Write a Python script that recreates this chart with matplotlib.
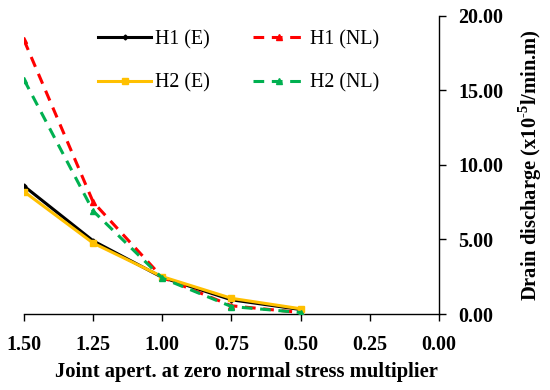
import matplotlib
matplotlib.use("Agg")
import matplotlib.pyplot as plt

plt.rcParams['font.family'] = ['Liberation Serif', 'DejaVu Serif']
plt.rcParams['mathtext.fontset'] = 'custom'
plt.rcParams['mathtext.bf'] = 'Liberation Serif:bold'
plt.rcParams['mathtext.rm'] = 'Liberation Serif:bold'

x = [1.50, 1.25, 1.00, 0.75, 0.50]
h1_e = [8.57, 4.9, 2.45, 0.95, 0.3]
h2_e = [8.2, 4.75, 2.5, 1.05, 0.35]
h1_nl = [18.35, 7.5, 2.45, 0.55, 0.1]
h2_nl = [15.7, 6.9, 2.4, 0.5, 0.1]

xticks = [1.50, 1.25, 1.00, 0.75, 0.50, 0.25, 0.00]
yticks = [0, 5, 10, 15, 20]

W, H = 550, 390
fig = plt.figure(figsize=(5.5, 3.9), dpi=100)
ax = fig.add_axes([24/W, 1-314/H, (439-24)/W, (314-15.5)/H])

ax.plot(x, h1_e, color='black', lw=2.2, marker='D', ms=2.5, label='H1 (E)', zorder=3)
ax.plot(x, h1_nl, color='#FF0000', lw=2.2, ls=(0, (3.5, 2.5)), marker='^', ms=4.5, label='H1 (NL)', zorder=3)
ax.plot(x, h2_e, color='#FFC000', lw=2.2, marker='s', ms=4.5, label='H2 (E)', zorder=4)
ax.plot(x, h2_nl, color='#00B050', lw=2.2, ls=(0, (3.5, 2.5)), marker='^', ms=4.5, label='H2 (NL)', zorder=5)

ax.set_xlim(1.5, 0.0)
ax.set_ylim(0, 20)
ax.set_xticks(xticks)
ax.set_xticklabels([f"{v:.2f}" for v in xticks], fontweight='bold', fontsize=14.4)
ax.set_yticks(yticks)
ax.set_yticklabels([f"{v:.2f}" for v in yticks], fontweight='bold', fontsize=14.4)

ax.spines['top'].set_visible(False)
ax.spines['left'].set_visible(False)
ax.spines['right'].set_visible(True)
ax.yaxis.tick_right()
ax.yaxis.set_label_position('right')
ax.tick_params(axis='both', direction='out', length=5, width=1, color='black')
ax.tick_params(axis='x', pad=10)
ax.tick_params(axis='y', pad=9)
for s in ['bottom', 'right']:
    ax.spines[s].set_linewidth(1.0)

ax.set_xlabel('Joint apert. at zero normal stress multiplier', fontweight='bold', fontsize=14.9, labelpad=3)
ax.xaxis.set_label_coords((246-24)/(439-24), -0.16)
ax.set_ylabel(r'Drain discharge (x10$^{\mathbf{\text{-}5}}$l/min.m)', fontweight='bold', fontsize=14.8, labelpad=9)

handles, labels = ax.get_legend_handles_labels()
order = [0, 2, 1, 3]
leg = fig.legend([handles[i] for i in order], [labels[i] for i in order], ncol=2, loc='upper left',
                 bbox_to_anchor=(80/W, 1-12/H), frameon=False, fontsize=14.4, handlelength=2.65,
                 handletextpad=0.2, columnspacing=2.15, labelspacing=1.2)

fig.savefig('out.png', dpi=100)
